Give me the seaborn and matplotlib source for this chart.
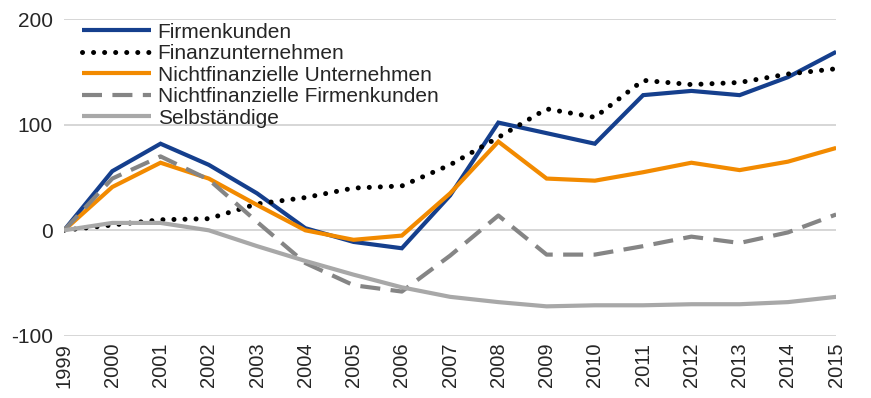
import matplotlib
matplotlib.use("Agg")
import matplotlib.pyplot as plt
import seaborn as sns
import pandas as pd

years = list(range(1999, 2016))

firmenkunden = [0, 56, 82, 62, 35, 2, -11, -17, 33, 102, 92, 82, 128, 132, 128, 145, 169]
finanzunternehmen = [0, 5, 10, 11, 25, 31, 40, 42, 62, 88, 115, 107, 142, 138, 140, 148, 153]
nf_unternehmen = [0, 41, 64, 49, 24, 0, -9, -5, 35, 84, 49, 47, 55, 64, 57, 65, 78]
nf_firmenkunden = [0, 49, 70, 48, 8, -31, -52, -58, -24, 14, -23, -23, -15, -6, -12, -2, 15]
selbstaendige = [0, 7, 7, 0, -15, -29, -42, -54, -63, -68, -72, -71, -71, -70, -70, -68, -63]

series_names = [
    "Firmenkunden",
    "Finanzunternehmen",
    "Nichtfinanzielle Unternehmen",
    "Nichtfinanzielle Firmenkunden",
    "Selbständige",
]
series_values = [firmenkunden, finanzunternehmen, nf_unternehmen, nf_firmenkunden, selbstaendige]

y_ticks = [-100, 0, 100, 200]

frames = []
for name, vals in zip(series_names, series_values):
    frames.append(pd.DataFrame({"Jahr": years, "Wert": vals, "Reihe": name}))
df = pd.concat(frames, ignore_index=True)

styles = {
    "Firmenkunden": dict(color="#153f8d", lw=3.0, ls="-", cap="butt"),
    "Finanzunternehmen": dict(color="#000000", lw=3.6, ls=(0, (0.01, 2.2)), cap="round"),
    "Nichtfinanzielle Unternehmen": dict(color="#f28a00", lw=3.0, ls="-", cap="butt"),
    "Nichtfinanzielle Firmenkunden": dict(color="#858585", lw=3.0, ls=(0, (4.8, 2.5)), cap="butt"),
    "Selbständige": dict(color="#a8a8a8", lw=3.0, ls="-", cap="butt"),
}

sns.set_theme(style="white")
plt.rcParams["font.family"] = ["Liberation Sans", "DejaVu Sans"]

fig = plt.figure(figsize=(8.71, 3.98), dpi=100)
ax = fig.add_axes([0.0735, 0.156, 0.8865, 0.796])

for name in series_names:
    st = styles[name]
    sub = df[df["Reihe"] == name]
    sns.lineplot(data=sub, x="Jahr", y="Wert", ax=ax, color=st["color"],
                 linewidth=st["lw"], label=name, zorder=3)
    line = ax.lines[-1]
    line.set_linestyle(st["ls"])
    line.set_dash_capstyle(st["cap"])
    line.set_solid_capstyle("butt")
    line.set_solid_joinstyle("miter")

ax.set_xlim(1999, 2015)
ax.set_ylim(-100, 200)
ax.set_yticks(y_ticks)
ax.set_yticklabels([str(v) for v in y_ticks], fontsize=15)
ax.set_xticks(years)
ax.set_xticklabels([str(y) for y in years], rotation=90, fontsize=14.5)
ax.tick_params(axis="y", length=0, pad=8)
ax.tick_params(axis="x", length=0, pad=5)
ax.set_xlabel("")
ax.set_ylabel("")
ax.grid(axis="y", color="#d0d0d0", linewidth=1.2, zorder=0)
ax.grid(axis="x", visible=False)
for sp in ax.spines.values():
    sp.set_visible(False)

leg = ax.legend(loc="upper left", bbox_to_anchor=(0.012, 1.015), frameon=False,
                fontsize=15, handlelength=3.35, handletextpad=0.3,
                labelspacing=0.12, borderaxespad=0.0)

fig.savefig("out.png", dpi=100)
